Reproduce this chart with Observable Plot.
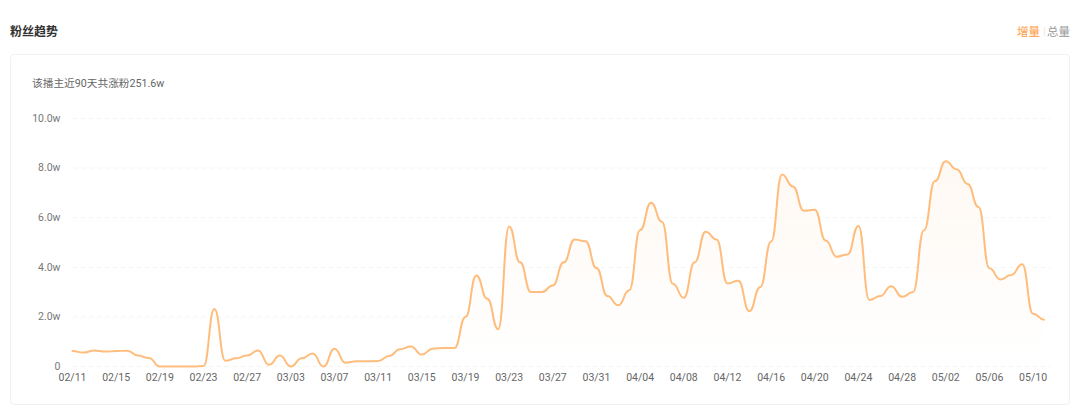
<!DOCTYPE html>
<html><head><meta charset="utf-8">
<script src="https://cdn.jsdelivr.net/npm/d3@7"></script>
<script src="https://cdn.jsdelivr.net/npm/@observablehq/plot@0.6"></script>
<style>
html,body{margin:0;padding:0;background:#fff;width:1080px;height:410px;overflow:hidden;font-family:Roboto,"Noto Sans CJK SC",sans-serif}
#wrap{position:relative;width:1080px;height:410px}
#card{position:absolute;left:10px;top:54px;width:1060px;height:351px;border:1px solid #f1f1f1;border-radius:4px;box-sizing:border-box}
.t{position:absolute;white-space:nowrap;line-height:14px}
#chart{position:absolute;left:0;top:0}
</style></head><body>
<div id="wrap">
<div id="card"></div>
<div class="t" style="left:10px;top:25px;font-size:12px;font-weight:700;color:#333">粉丝趋势</div>
<div class="t" style="left:1017px;top:25px;font-size:11.5px;color:#ff9a3c">增量</div>
<div class="t" style="left:1043px;top:25px;font-size:11px;color:#e6e6e6">|</div>
<div class="t" style="left:1047px;top:25px;font-size:11.5px;color:#999">总量</div>
<div class="t" style="left:32px;top:77px;font-size:10.7px;color:#666">该播主近90天共涨粉251.6w</div>
<div id="chart"></div>
</div>
<script>
const dates = ["02/11","02/12","02/13","02/14","02/15","02/16","02/17","02/18","02/19","02/20",
"02/21","02/22","02/23","02/24","02/25","02/26","02/27","02/28","03/01","03/02",
"03/03","03/04","03/05","03/06","03/07","03/08","03/09","03/10","03/11","03/12",
"03/13","03/14","03/15","03/16","03/17","03/18","03/19","03/20","03/21","03/22",
"03/23","03/24","03/25","03/26","03/27","03/28","03/29","03/30","03/31","04/01",
"04/02","04/03","04/04","04/05","04/06","04/07","04/08","04/09","04/10","04/11",
"04/12","04/13","04/14","04/15","04/16","04/17","04/18","04/19","04/20","04/21",
"04/22","04/23","04/24","04/25","04/26","04/27","04/28","04/29","04/30","05/01",
"05/02","05/03","05/04","05/05","05/06","05/07","05/08","05/09","05/10","05/11"];
const fans = [0.62,0.56,0.65,0.60,0.62,0.64,0.44,0.34,0,0,
0,0,0.02,2.32,0.23,0.33,0.44,0.65,0.07,0.44,
0,0.33,0.52,0,0.72,0.15,0.21,0.21,0.22,0.42,
0.70,0.81,0.48,0.72,0.75,0.75,2.0,3.67,2.73,1.5,
5.65,4.2,3.0,3.0,3.27,4.2,5.12,5.05,3.97,2.84,
2.47,3.07,5.5,6.6,5.84,3.34,2.77,4.2,5.43,5.12,
3.35,3.46,2.23,3.2,5.04,7.74,7.26,6.28,6.32,5.08,
4.43,4.52,5.67,2.68,2.84,3.24,2.81,3.0,5.49,7.47,
8.28,7.95,7.36,6.43,3.96,3.51,3.69,4.12,2.13,1.89];
const xTicks = ["02/11","02/15","02/19","02/23","02/27","03/03","03/07","03/11","03/15","03/19","03/23","03/27","03/31","04/04","04/08","04/12","04/16","04/20","04/24","04/28","05/02","05/06","05/10"];
const yTicks = [0,2,4,6,8,10];
const yLabels = ["0","2.0w","4.0w","6.0w","8.0w","10.0w"];
const rows = dates.map((d,i)=>({d,v:fans[i]}));
const curve = "bump-x";
const defs = () => {
  const s = d3.create("svg:g");
  const g = s.append("defs").append("linearGradient").attr("id","fade").attr("x1",0).attr("y1",0).attr("x2",0).attr("y2",1);
  g.append("stop").attr("offset","0%").attr("stop-color","#fef6ee").attr("stop-opacity",0.75);
  g.append("stop").attr("offset","100%").attr("stop-color","#fff").attr("stop-opacity",0.6);
  return s.node();
};
const plot = Plot.plot({
  width:1080,height:410,
  marginLeft:73,marginRight:29,marginTop:118,marginBottom:44,
  style:{background:"transparent",fontFamily:"Roboto,'Noto Sans CJK SC',sans-serif",fontSize:"10.5px"},
  x:{type:"point",padding:0,domain:dates,range:[72,1043.5],label:null},
  y:{domain:[0,10],range:[366,118],label:null},
  marks:[
    defs,
    Plot.ruleY(yTicks,{stroke:"#f3f3f3",strokeDasharray:"4 4"}),
    Plot.areaY(rows,{x:"d",y:"v",curve,fill:"url(#fade)"}),
    Plot.lineY(rows,{x:"d",y:"v",curve,stroke:"#ffbd7d",strokeWidth:2}),
    Plot.axisY({ticks:yTicks,tickSize:0,tickPadding:13,tickFormat:v=>yLabels[yTicks.indexOf(v)],label:null,color:"#777"}),
    Plot.axisX({ticks:xTicks,tickSize:0,tickPadding:7,label:null,color:"#666"})
  ]
});
document.getElementById("chart").appendChild(plot);
</script>
</body></html>
